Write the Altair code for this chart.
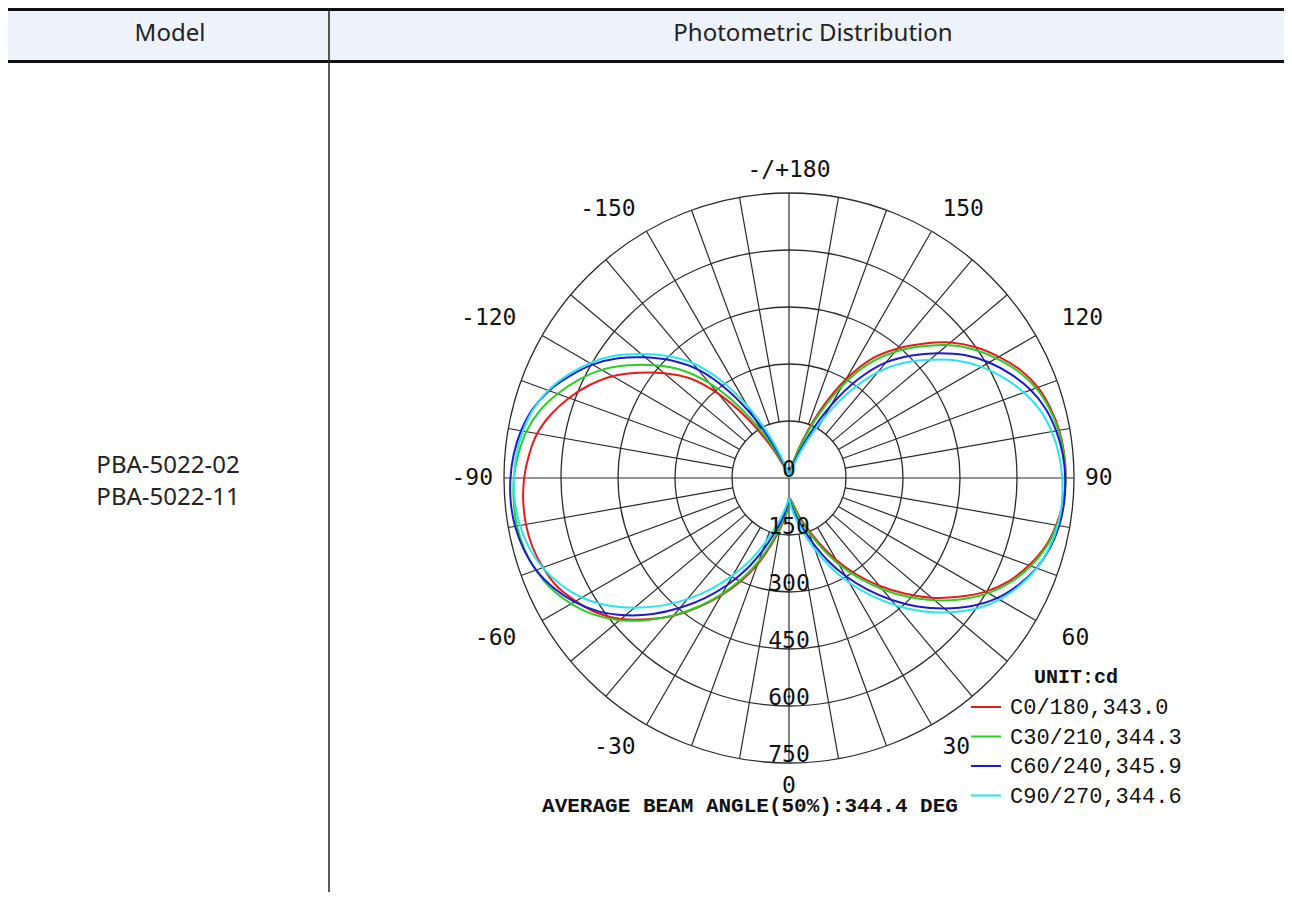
import math
import altair as alt
import pandas as pd

# ---------------- data ----------------
GAMMA = list(range(0, 181, 5))  # vertical angle, 0 = nadir (bottom), 180 = zenith (top)

# right half-planes (C0, C30, C60, C90), cd
C0 = [52, 58, 75, 105, 140, 190, 250, 310, 370, 430, 490, 545, 598, 640, 672, 698, 714, 724, 728, 727,
      722, 712, 697, 672, 638, 600, 555, 500, 445, 385, 300, 200, 105, 45, 15, 3, 0]
C30 = [52, 61, 81, 112, 150, 202, 262, 322, 382, 442, 501, 556, 606, 646, 677, 701, 716, 725, 728, 726,
       720, 709, 692, 665, 630, 591, 544, 489, 433, 368, 280, 181, 93, 39, 13, 2, 0]
C60 = [52, 72, 99, 133, 180, 238, 298, 358, 418, 478, 534, 587, 632, 666, 693, 711, 722, 727, 727, 723,
       714, 700, 677, 645, 608, 564, 511, 456, 397, 317, 220, 124, 57, 21, 5, 1, 0]
C90 = [52, 80, 111, 149, 200, 259, 319, 378, 438, 496, 550, 600, 640, 670, 694, 709, 718, 721, 719, 713,
       702, 685, 658, 624, 585, 539, 484, 429, 364, 277, 179, 92, 39, 13, 2, 0, 0]
# left half-planes (C180, C210, C240, C270), cd
C180 = [52, 101, 135, 183, 241, 299, 357, 415, 473, 526, 577, 618, 648, 674, 689, 699, 703, 702, 697, 687,
        673, 648, 616, 579, 536, 483, 429, 372, 290, 193, 101, 43, 14, 3, 0, 0, 0]
C210 = [52, 96, 130, 175, 232, 292, 352, 412, 472, 529, 582, 627, 662, 690, 709, 721, 727, 727, 724, 715,
        702, 680, 648, 611, 569, 517, 462, 403, 326, 230, 134, 63, 24, 7, 1, 0, 0]
C240 = [52, 82, 113, 152, 204, 265, 325, 386, 446, 506, 562, 612, 652, 684, 708, 723, 732, 735, 733, 727,
        716, 699, 672, 636, 597, 549, 494, 437, 372, 283, 183, 94, 39, 13, 2, 0, 0]
C270 = [52, 71, 98, 132, 179, 237, 296, 356, 416, 475, 531, 584, 629, 663, 690, 708, 719, 724, 724, 720,
        711, 697, 674, 642, 605, 561, 508, 454, 395, 315, 219, 123, 57, 21, 5, 1, 0]

SERIES = ["C0/180,343.0", "C30/210,344.3", "C60/240,345.9", "C90/270,344.6"]
COLORS = ["#e8191b", "#25d025", "#1c1ccf", "#29e3ef"]

RINGS = [150, 300, 450, 600, 750]
RING_LABELS = [0, 150, 300, 450, 600, 750]
SPOKE_ANGLES = list(range(0, 360, 10))
ANGLE_TICKS = [0, 30, 60, 90, 120, 150, 180, 210, 240, 270, 300, 330]
ANGLE_TEXT = ["0", "30", "60", "90", "120", "150", "-/+180", "-150", "-120", "-90", "-60", "-30"]

HEADERS = ["Model", "Photometric Distribution"]
MODELS = ["PBA-5022-02", "PBA-5022-11"]
BEAM_TEXT = ["AVERAGE BEAM ANGLE(50%):344.4 DEG"]
UNIT_TITLE = "UNIT:cd"

# ---------------- geometry ----------------
W, H = 1276, 884
CX, CY = 781, 470          # polar centre inside the view
R_OUT = 285                # px for 750 cd
PX = R_OUT / 750.0
xs = alt.Scale(domain=[-CX / PX, (W - CX) / PX], nice=False, zero=False)
ys = alt.Scale(domain=[-(H - CY) / PX, CY / PX], nice=False, zero=False)


def X(f):
    return alt.X(f, type="quantitative", scale=xs, axis=None)


def Y(f):
    return alt.Y(f, type="quantitative", scale=ys, axis=None)


GRID = "#2a2a2a"
MONO = "DejaVu Sans Mono"

# ---------------- curves ----------------
rows = []
for s, r, l in zip(SERIES, [C0, C30, C60, C90], [C180, C210, C240, C270]):
    for g, v in zip(GAMMA, r):
        rows.append(dict(series=s, half=s + "R", side=1, gamma=g, I=v))
    for g, v in zip(GAMMA, l):
        rows.append(dict(series=s, half=s + "L", side=-1, gamma=g, I=v))
curves_df = pd.DataFrame(rows)

curves = alt.Chart(curves_df).transform_calculate(
    px="datum.side * datum.I * sin(datum.gamma * PI / 180)",
    py="-datum.I * cos(datum.gamma * PI / 180)",
).mark_line(strokeWidth=2, interpolate="catmull-rom").encode(
    x=X("px:Q"),
    y=Y("py:Q"),
    detail="half:N",
    order="gamma:Q",
    color=alt.Color(
        "series:N",
        scale=alt.Scale(domain=SERIES, range=COLORS),
        legend=alt.Legend(
            title=UNIT_TITLE, orient="none", legendX=962, legendY=659, padding=0,
            symbolType="stroke", symbolSize=900, symbolStrokeWidth=2,
            titleFont="Liberation Mono", titleFontSize=20, titleFontWeight="bold",
            titleColor="#111", titleAnchor="middle", titlePadding=4,
            labelFont="Liberation Mono", labelFontSize=22, labelColor="#111",
            labelLimit=400, labelOffset=8, rowPadding=2.5,
        ),
    ),
)

# ---------------- polar grid ----------------
rings = alt.Chart(pd.DataFrame({"r": RINGS})).mark_arc(
    theta=0, theta2=2 * math.pi, fillOpacity=0, fill="white", stroke=GRID, strokeWidth=1.3
).encode(
    x=alt.value(CX), y=alt.value(CY),
    radius=alt.Radius("r:Q", stack=None,
                      scale=alt.Scale(type="linear", domain=[0, 750], range=[0, R_OUT])),
)

spokes = alt.Chart(pd.DataFrame({"a": SPOKE_ANGLES})).transform_calculate(
    r0="datum.a % 90 == 0 ? 0 : 150",
    x1="datum.r0 * sin(datum.a * PI / 180)",
    y1="-datum.r0 * cos(datum.a * PI / 180)",
    x2="750 * sin(datum.a * PI / 180)",
    y2="-750 * cos(datum.a * PI / 180)",
).mark_rule(color=GRID, strokeWidth=1.2).encode(x=X("x1:Q"), y=Y("y1:Q"), x2="x2:Q", y2="y2:Q")

ring_text = alt.Chart(pd.DataFrame({"v": RING_LABELS})).transform_calculate(
    tx="0", ty="-datum.v", lab="'' + datum.v"
).mark_text(font=MONO, fontSize=23, color="#111", align="center", baseline="alphabetic", dy=-1).encode(
    x=X("tx:Q"), y=Y("ty:Q"), text="lab:N"
)

# angle labels: inner edge anchored just outside the outer ring
angle_base = alt.Chart(pd.DataFrame({"a": ANGLE_TICKS, "t": ANGLE_TEXT})).transform_calculate(
    s="sin(datum.a * PI / 180)",
    c="cos(datum.a * PI / 180)",
    w="abs(sin(2 * datum.a * PI / 180))",
    cg="datum.c > 0.01 ? 1 : (datum.c < -0.01 ? -1 : 0)",
    tx="(296 * datum.s + (datum.s > 0 ? 1 : -1) * 25 * datum.w * datum.s * datum.s) / " + str(PX),
    ty="-(308 * datum.c + datum.cg * 9 * datum.w * datum.s * datum.s) / " + str(PX),
)
lab_kw = dict(font=MONO, fontSize=23, color="#111", baseline="middle")
lab_enc = dict(x=X("tx:Q"), y=Y("ty:Q"), text="t:N")
angle_right = angle_base.transform_filter("datum.s > 0.01").mark_text(align="left", **lab_kw).encode(**lab_enc)
angle_left = angle_base.transform_filter("datum.s < -0.01").mark_text(align="right", **lab_kw).encode(**lab_enc)
angle_mid = angle_base.transform_filter("abs(datum.s) <= 0.01").mark_text(align="center", **lab_kw).encode(**lab_enc)

beam = alt.Chart(pd.DataFrame({"t": BEAM_TEXT})).mark_text(
    font="Liberation Mono", fontSize=21, fontWeight="bold", color="#111", align="center", baseline="middle"
).encode(x=alt.value(742), y=alt.value(798), text="t:N")

# ---------------- table frame ----------------
one = pd.DataFrame({"k": [0]})
header_bg = alt.Chart(one).mark_rect(color="#eef2fb").encode(
    x=alt.value(0), x2=alt.value(W), y=alt.value(3), y2=alt.value(52)
)
top_line = alt.Chart(one).mark_rule(color="#111", strokeWidth=3).encode(
    x=alt.value(0), x2=alt.value(W), y=alt.value(1.5)
)
head_line = alt.Chart(one).mark_rule(color="#111", strokeWidth=3).encode(
    x=alt.value(0), x2=alt.value(W), y=alt.value(53.5)
)
v_line = alt.Chart(one).mark_rule(color="#222", strokeWidth=1.5).encode(
    x=alt.value(321), y=alt.value(0), y2=alt.value(H)
)

hdr_font = dict(font="Noto Sans", fontSize=24, color="#222", align="center", baseline="middle")
head1 = alt.Chart(pd.DataFrame({"t": HEADERS[:1]})).mark_text(**hdr_font).encode(
    x=alt.value(162), y=alt.value(26), text="t:N")
head2 = alt.Chart(pd.DataFrame({"t": HEADERS[1:]})).mark_text(**hdr_font).encode(
    x=alt.value(805), y=alt.value(26), text="t:N")
model1 = alt.Chart(pd.DataFrame({"t": MODELS[:1]})).mark_text(**hdr_font).encode(
    x=alt.value(160), y=alt.value(458), text="t:N")
model2 = alt.Chart(pd.DataFrame({"t": MODELS[1:]})).mark_text(**hdr_font).encode(
    x=alt.value(160), y=alt.value(490), text="t:N")

chart = alt.layer(
    header_bg, top_line, head_line, v_line, head1, head2, model1, model2,
    rings, spokes, curves, ring_text, angle_right, angle_left, angle_mid, beam,
).properties(
    width=W, height=H, autosize=alt.AutoSizeParams(type="none"), padding=0, background="white"
).configure_view(strokeWidth=0)

chart.save("out.html", embed_options={"renderer": "svg", "actions": False})
